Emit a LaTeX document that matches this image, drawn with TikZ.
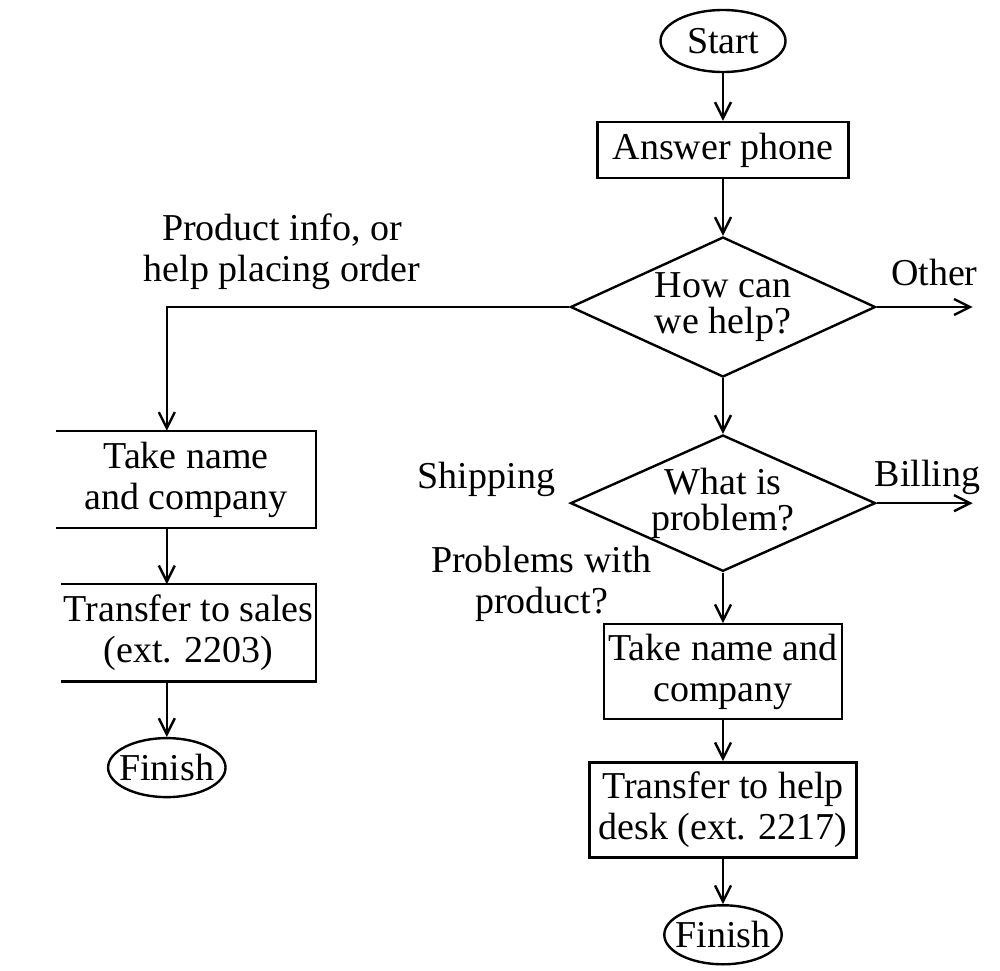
\documentclass[tikz,border=0pt]{standalone}
\usepackage{fontspec}
\setmainfont{Liberation Serif}
\usetikzlibrary{calc}
\usetikzlibrary{positioning}
\usetikzlibrary{shapes.geometric}
\usetikzlibrary{arrows.meta}

\begin{document}
\begin{tikzpicture}[font=\fontsize{19}{20.5}\selectfont, line width=1.2pt,
                    term/.style={draw, ellipse, inner xsep=-3pt, inner ysep=0pt,
                                 minimum width=57.5pt, minimum height=29.5pt},
                    proc/.style={draw, rectangle, align=center, inner sep=0pt,
                                 minimum height=47.5pt},
                    openproc/.style={rectangle, align=center, inner sep=0pt,
                                     minimum height=47.5pt},
                    choice/.style={draw, diamond, aspect=2.18, inner sep=0pt,
                                   align=center, minimum width=152.5pt,
                                   minimum height=70pt,
                                   font=\fontsize{19}{18}\selectfont},
                    lbl/.style={inner sep=1pt, align=center},
                    flow/.style={-{Straight Barb[length=8pt,width=8pt]}}]
 \useasboundingbox (0,0) rectangle (500pt,-485pt);

 % main column
 \node[term, minimum width=62.5pt, minimum height=31pt] (start) at (361.5pt,-20.5pt) {Start};
 \node[proc, minimum width=125.5pt, minimum height=28pt, below=23.8pt of start] (answer) {Answer phone};
 \node[choice, below=28.3pt of answer] (help) {How can\\we help?};
 \node[choice, minimum height=67pt, below=27.8pt of help] (problem) {What is\\problem?};
 \node[proc, minimum width=119pt, below=25.3pt of problem] (takeR) {Take name and\\company};
 \node[proc, minimum width=133.5pt, below=20.3pt of takeR] (transferR) {Transfer to help\\desk (ext. 2217)};
 \node[term, below=22.8pt of transferR] (finishR) {Finish};

 % left column
 \coordinate[left=201.25pt of help.west] (turn);
 \node[openproc, minimum width=129pt] (takeL) at (93pt,-239.75pt) {Take name\\and company};
 \node[openproc, minimum width=126.5pt, below left=28pt and 0pt of takeL.south east] (transferL) {Transfer to sales\\(ext. 2203)};
 \node[term] (finishL) at ($(turn |- transferL.south)+(0,-43pt)$) {Finish};
 \foreach \b in {takeL,transferL}
   \draw (\b.north west) -- (\b.north east) -- (\b.south east) -- (\b.south west);

 % side exits
 \coordinate[right=48pt of help.east] (otherend);
 \coordinate[right=48pt of problem.east] (billingend);
 \node[lbl, above left=1.5pt and 5.5pt of problem.west] (shiplbl) {Shipping};
 \node[lbl, left=34pt of problem.south, yshift=-5.75pt] (prodlbl) {Problems with\\product?};

 \draw[flow] (start) -- (answer);
 \draw[flow] (answer) -- (help);
 \draw[flow] (help) -- (problem);
 \draw[flow] (problem) -- (takeR);
 \draw[flow] (takeR) -- (transferR);
 \draw[flow] (transferR) -- (finishR);
 \draw[flow] (help.west) -- node[lbl, above=7pt, pos=0.714] (orderlbl) {Product info, or\\help placing order} (turn) -- (turn |- takeL.north);
 \draw[flow] (takeL.south -| turn) -- (transferL.north -| turn);
 \draw[flow] (transferL.south -| turn) -- (finishL);
 \draw[flow] (help.east) -- node[lbl, above=9pt, pos=0.6] (otherlbl) {Other} (otherend);
 \draw[flow] (problem.east) -- node[lbl, above=2.5pt, pos=0.53] (billinglbl) {Billing} (billingend);
\end{tikzpicture}
\end{document}
